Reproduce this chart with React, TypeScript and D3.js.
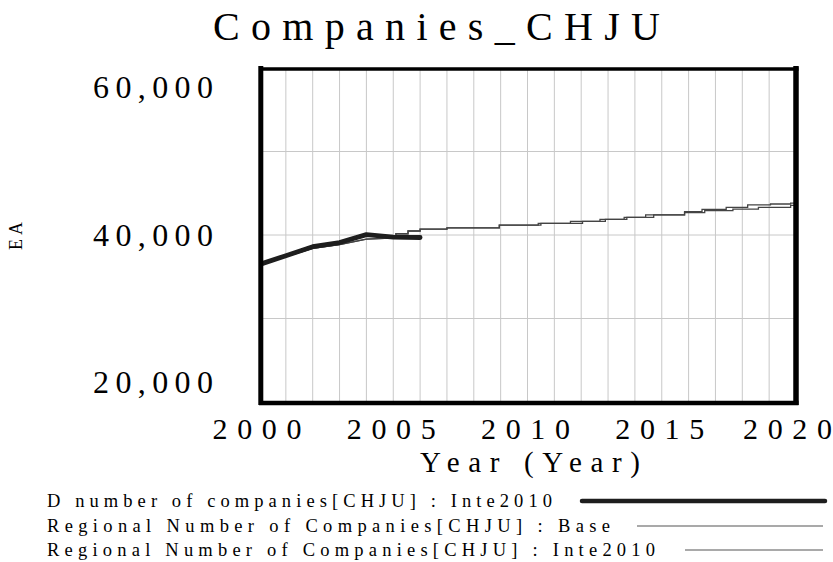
import React from "react";
import * as d3 from "d3";

// ---- data ----
const title = "Companies_CHJU";
const xTickYears = [2000, 2005, 2010, 2015, 2020];
const yTickValues = [20000, 40000, 60000];
const gridValues = [30000, 40000, 50000];
const gridYears = [2001, 2002, 2003, 2004, 2005, 2006, 2007, 2008, 2009, 2010, 2011, 2012, 2013, 2014, 2015, 2016, 2017, 2018, 2019];

const dNumberYears = [2000, 2001, 2002, 2003, 2004, 2005, 2006];
const dNumberValues = [36450, 37520, 38600, 39100, 40050, 39750, 39700];

const baseYears = [2000, 2001, 2002, 2003, 2004, 2005.1, 2005.1, 2005.55, 2005.55, 2006, 2006, 2007, 2007, 2008.95, 2008.95, 2010.4, 2010.4, 2011.6, 2011.6, 2012.7, 2012.7, 2013.6, 2013.6, 2014.4, 2014.4, 2015.85, 2015.85, 2016.5, 2016.5, 2017.4, 2017.4, 2018.2, 2018.2, 2019.05, 2019.05, 2019.8, 2019.8, 2020];
const baseValues = [36400, 37400, 38400, 38850, 39500, 39650, 40150, 40150, 40480, 40480, 40700, 40700, 40850, 40850, 41180, 41180, 41400, 41400, 41620, 41620, 41880, 41880, 42120, 42120, 42400, 42400, 42790, 42790, 43080, 43080, 43320, 43320, 43600, 43600, 43710, 43710, 43820, 43820];

const inteYears = [2000, 2001, 2002, 2003, 2004, 2005.1, 2005.1, 2005.55, 2005.55, 2006, 2006, 2007, 2007, 2008.95, 2008.95, 2010.5, 2010.5, 2012.05, 2012.05, 2012.9, 2012.9, 2013.7, 2013.7, 2014.7, 2014.7, 2015.85, 2015.85, 2016.6, 2016.6, 2017.65, 2017.65, 2018.6, 2018.6, 2019.8, 2019.8, 2020];
const inteValues = [36400, 37400, 38400, 38850, 39500, 39650, 40150, 40150, 40480, 40480, 40700, 40700, 40850, 40850, 41180, 41180, 41400, 41400, 41620, 41620, 41880, 41880, 42120, 42120, 42400, 42400, 42670, 42670, 42910, 42910, 43110, 43110, 43320, 43320, 43550, 43550];

const legendLabels = [
  "D number of companies[CHJU] : Inte2010",
  "Regional Number of Companies[CHJU] : Base",
  "Regional Number of Companies[CHJU] : Inte2010",
];
const xAxisTitle = "Year (Year)";
const yAxisTitle = "EA";

// ---- layout ----
const W = 833;
const H = 562;
const fontStyle = { fontFamily: "'Liberation Serif', 'Times New Roman', Times, serif" };

export default function App() {
  const x = d3.scaleLinear().domain([2000, 2020]).range([259, 796]);
  const y = d3.scaleLinear().domain([20000, 60000]).range([402, 68]);
  const line = d3
    .line<[number, number]>()
    .x((d) => x(d[0]))
    .y((d) => y(d[1]));

  const dPts = dNumberYears.map((t, i) => [t, dNumberValues[i]] as [number, number]);
  const basePts = baseYears.map((t, i) => [t, baseValues[i]] as [number, number]);
  const intePts = inteYears.map((t, i) => [t, inteValues[i]] as [number, number]);

  const [x0, x1] = x.range();
  const [yb, yt] = y.range();

  const legendTextLens = [505, 563, 608];
  const legendLineStarts = [582, 637, 685];
  const legendBaselines = [507, 532, 556];
  const legendLineY = [501, 526, 550];

  return (
    <svg width={W} height={H} style={{ position: "absolute", left: 0, top: 0, background: "#fff" }}>
      <rect x={0} y={0} width={W} height={H} fill="#fff" />
      <defs>
        <clipPath id="plotclip">
          <rect x={x0} y={yt} width={x1 - x0} height={yb - yt} />
        </clipPath>
      </defs>
      <g style={fontStyle} fill="#000">
        {/* title */}
        <text x={213} y={40} fontSize={40} textLength={447} lengthAdjust="spacing">
          {title}
        </text>
        {/* y tick labels */}
        {yTickValues.map((v, i) => {
          let cy = y(v);
          if (i === yTickValues.length - 1) cy += 19.5;
          if (i === 0) cy -= 19.5;
          return (
            <text key={"yt" + v} x={93} y={cy + 10.8} fontSize={32} textLength={120} lengthAdjust="spacing">
              {d3.format(",")(v)}
            </text>
          );
        })}
        {/* x tick labels */}
        {xTickYears.map((t, i) => {
          let cx = x(t) - 2;
          if (i === xTickYears.length - 1) cx = Math.min(cx, 832 - 44.5);
          return (
            <text key={"xt" + t} x={cx - 44.5} y={439} fontSize={30} textLength={89} lengthAdjust="spacing">
              {String(t)}
            </text>
          );
        })}
        {/* axis titles */}
        <text x={420} y={472} fontSize={29} textLength={220} lengthAdjust="spacing">
          {xAxisTitle}
        </text>
        <text transform="translate(22,250) rotate(-90)" x={0} y={0} fontSize={18} textLength={28} lengthAdjust="spacing">
          {yAxisTitle}
        </text>
        {/* legend texts */}
        {legendLabels.map((lab, i) => (
          <text key={"lt" + i} x={47} y={legendBaselines[i]} fontSize={18.5} textLength={legendTextLens[i]} lengthAdjust="spacing">
            {lab}
          </text>
        ))}
      </g>
      {/* grid */}
      {gridYears.map((g) => (
        <line key={"gx" + g} x1={x(g)} x2={x(g)} y1={yt} y2={yb} stroke="#c8c8c8" strokeWidth={1} />
      ))}
      {gridValues.map((g) => (
        <line key={"gy" + g} x1={x0} x2={x1} y1={y(g)} y2={y(g)} stroke="#c8c8c8" strokeWidth={1} />
      ))}
      {/* series */}
      <g clipPath="url(#plotclip)" fill="none">
        <path d={line(basePts) || ""} stroke="#444" strokeWidth={1.3} />
        <path d={line(intePts) || ""} stroke="#444" strokeWidth={1.3} />
        <path d={line(dPts) || ""} stroke="#1e1e1e" strokeWidth={4.8} strokeLinejoin="round" strokeLinecap="round" />
      </g>
      {/* frame */}
      <line x1={x0 + 1.8} x2={x0 + 1.8} y1={yt - 2} y2={yb + 3} stroke="#000" strokeWidth={5} />
      <line x1={x1} x2={x1} y1={yt - 2} y2={yb + 3} stroke="#000" strokeWidth={5.5} />
      <line x1={x0} x2={x1 + 2.5} y1={yt + 1} y2={yt + 1} stroke="#000" strokeWidth={3.5} />
      <line x1={x0} x2={x1 + 2.5} y1={yb + 1} y2={yb + 1} stroke="#000" strokeWidth={4.5} />
      {/* legend lines */}
      {legendLabels.map((lab, i) => (
        <line
          key={"ll" + i}
          x1={legendLineStarts[i]}
          x2={i === 0 ? 825 : 823}
          y1={legendLineY[i]}
          y2={legendLineY[i]}
          stroke={i === 0 ? "#1e1e1e" : "#555"}
          strokeWidth={i === 0 ? 4.5 : 1.2}
          strokeLinecap={i === 0 ? "round" : "butt"}
        />
      ))}
    </svg>
  );
}
